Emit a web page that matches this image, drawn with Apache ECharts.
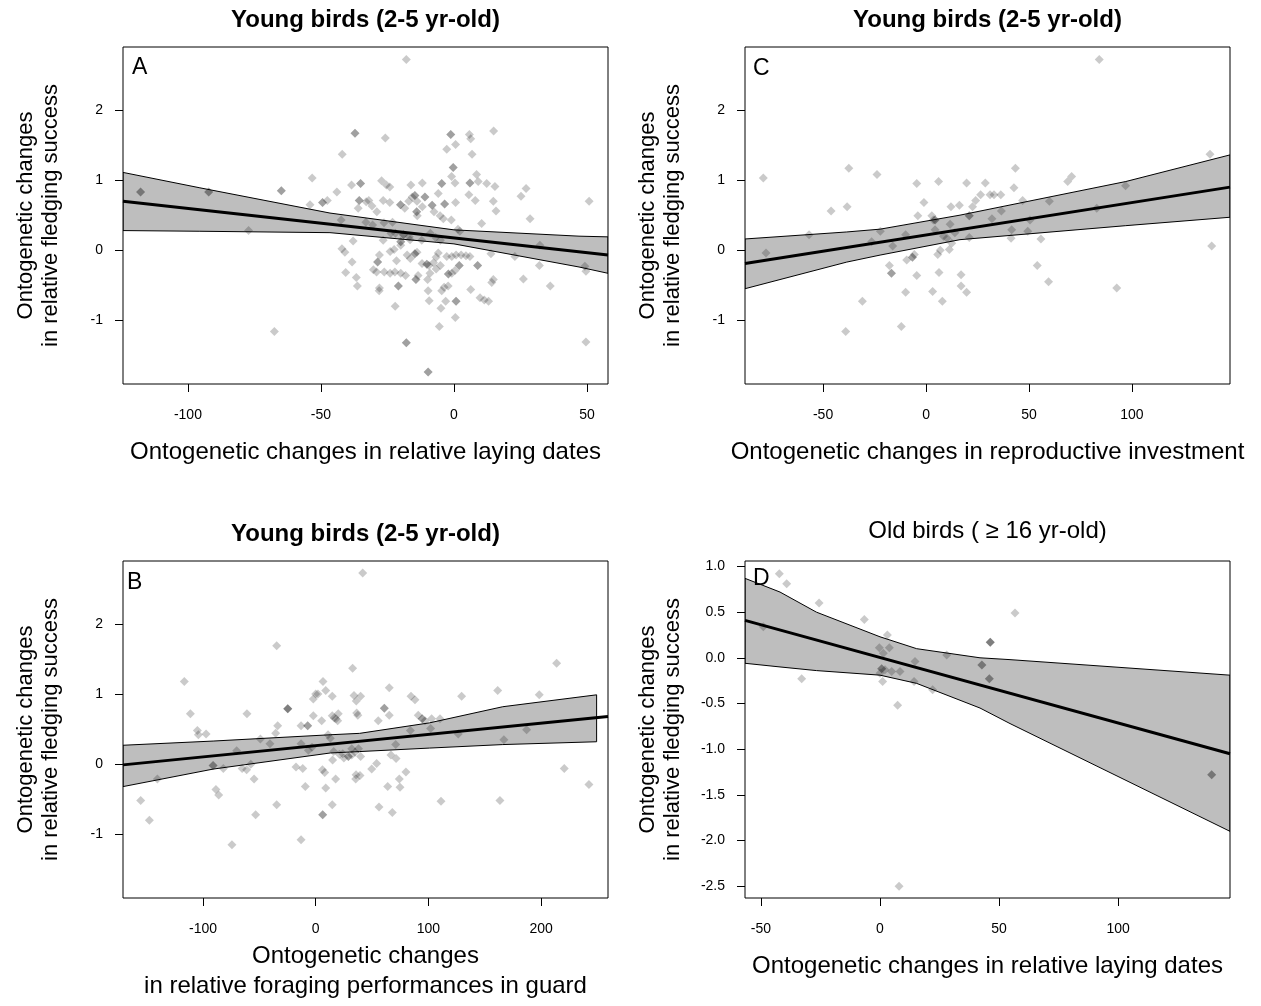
<!DOCTYPE html>
<html><head><meta charset="utf-8">
<script src="https://cdn.jsdelivr.net/npm/echarts@6/dist/echarts.min.js"></script>
<style>html,body{margin:0;padding:0;background:#fff}#c{width:1261px;height:1006px}</style>
</head><body><div id="c"></div>
<script>
const FONT = '"Liberation Sans", Arial, Helvetica, sans-serif';

// ---------- text ----------
const titleYoung = 'Young birds (2-5 yr-old)';
const titleOld = 'Old birds ( \u2265 16 yr-old)';
const yTitle = 'Ontogenetic changes\nin relative fledging success';
const xTitleA = 'Ontogenetic changes in relative laying dates';
const xTitleC = 'Ontogenetic changes in reproductive investment';
const xTitleB = 'Ontogenetic changes\nin relative foraging performances in guard';
const xTitleD = 'Ontogenetic changes in relative laying dates';
const panelLetters = ['A', 'C', 'B', 'D'];

// ---------- axes ----------
const xRangeA = [-124.4, 57.9];
const xRangeC = [-87.9, 147.6];
const xRangeB = [-171, 259.4];
const xRangeD = [-56.7, 147];
const yRangeABC = [-1.91, 2.90];
const yRangeD = [-2.63, 1.06];
const xTicksA = [-100, -50, 0, 50];
const xTicksC = [-50, 0, 50, 100];
const xTicksB = [-100, 0, 100, 200];
const xTicksD = [-50, 0, 50, 100];
const yTicksABC = [-1, 0, 1, 2];
const yTicksD = [-2.5, -2, -1.5, -1, -0.5, 0, 0.5, 1];

// ---------- data: panel A ----------
const ptsA = [
[-117.8,0.83],[-117.8,0.83],[-92.2,0.83],[-92.2,0.83],[-77.2,0.28],[-67.5,-1.16],
[-64.9,0.85],[-64.9,0.85],[-53.3,1.03],[-54.1,0.65],[-49.4,0.68],[-49.4,0.68],
[-47.6,0.71],[-44.0,0.83],[-42.0,1.37],[-42.4,0.43],[-42.1,0.02],[-41.0,-0.03],[-38.3,-0.17],
[-40.7,-0.32],[-37.9,0.13],[-38.5,0.93],[-37.2,1.67],[-37.2,1.67],[-36.7,-0.39],[-36.3,-0.51],
[-17.9,2.72],[-25.8,1.60],[-1.2,1.65],[-1.2,1.65],[5.8,1.65],[6.3,1.59],[14.9,1.70],[0.6,1.51],
[-2.7,1.44],[6.8,1.37],[-0.3,1.18],[-0.3,1.18],[-0.9,1.05],[0.4,0.96],[-4.6,0.95],[-4.6,0.95],
[6.0,0.96],[6.0,0.96],[8.5,1.08],[9.1,0.98],[12.3,0.95],[15.4,0.91],[5.6,0.79],[8.0,0.71],
[14.8,0.70],[15.8,0.56],[10.4,0.38],[25.2,0.77],[27.1,0.88],[28.6,0.45],[50.8,0.70],[32.3,0.07],
[22.9,-0.09],[32.1,-0.22],[26.1,-0.41],[36.2,-0.51],[49.2,-0.23],[49.6,-0.30],[49.6,-1.31],
[13.9,-0.05],[14.8,-0.42],[14.2,-0.46],[6.3,-0.56],[9.8,-0.68],[11.4,-0.71],[13.0,-0.73],
[-17.9,-1.32],[-17.9,-1.32],[-9.7,-1.74],[-9.7,-1.74],[-5.5,-1.09],[0.5,-0.96],[-22.1,-0.80],
[-9.3,-0.72],[-4.9,-0.83],[0.8,-0.73],[0.8,-0.73],[-3.1,-0.73],[-9.7,-0.58],[-4.6,-0.58],
[-3.7,-0.53],[-2.2,-0.51],[-28.1,-0.58],[-30.3,-0.28],[-29.1,-0.31],[-26.2,-0.31],[-24.0,-0.33],
[-22.2,-0.31],[-20.0,-0.33],[-28.0,-0.54],[-20.9,-0.51],[-20.9,-0.51],[-18.2,-0.36],
[-14.3,-0.42],[-14.3,-0.42],[-13.5,-0.36],[-9.9,-0.42],[-9.0,-0.33],[-6.7,-0.27],[-5.1,-0.22],
[-6.7,-0.10],[-5.9,-0.04],[-2.1,-0.34],[-2.1,-0.34],[-0.8,-0.33],[0.4,-0.29],[2.0,-0.22],[2.0,-0.22],
[-2.7,-0.09],[-0.8,-0.09],[0.8,-0.07],[2.7,-0.07],[4.5,-0.08],[6.0,-0.09],[8.9,-0.22],[8.9,-0.22],
[-28.7,-0.17],[-28.7,-0.17],[-28.0,-0.07],[-24.0,-0.02],[-22.5,0.01],[-21.6,-0.15],[-20.0,0.07],
[-20.0,0.12],[-20.0,0.12],[-17.6,-0.07],[-16.4,-0.12],[-14.7,-0.05],[-14.7,-0.05],[-13.9,-0.03],
[-12.0,-0.19],[-10.2,-0.20],[-10.2,-0.20],[-9.4,-0.22],[-7.7,-0.18],[-12.1,0.14],[-8.9,0.24],
[-6.9,0.18],[-5.1,0.14],[-16.5,0.15],[-26.6,0.14],[-23.7,0.24],[-33.1,0.40],[-30.6,0.36],
[-26.3,0.39],[-23.1,0.40],[-22.0,0.24],[-36.0,0.60],[-35.6,0.71],[-35.6,0.71],[-33.0,0.69],
[-32.0,0.71],[-30.8,0.63],[-26.6,0.71],[-24.1,0.68],[-20.1,0.65],[-20.1,0.65],[-18.5,0.60],
[-17.0,0.70],[-15.7,0.76],[-14.7,0.78],[-14.7,0.78],[-13.9,0.70],[-13.8,0.49],[-14.0,0.55],
[-14.0,0.55],[-11.9,0.62],[-10.9,0.76],[-10.9,0.76],[-8.2,0.64],[-8.2,0.64],[-7.5,0.55],
[-5.9,0.81],[-5.2,0.49],[-4.0,0.45],[-3.5,0.66],[-3.5,0.66],[0.6,0.68],[-1.0,0.43],[1.5,0.30],
[2.2,0.27],[-11.9,0.96],[-16.2,0.93],[-27.2,0.99],[-25.4,0.93],[-24.1,0.90],[-35.1,0.95],
[-35.1,0.95],[-29.0,0.55],[-19.0,0.22],[-19.0,0.22],[-16.8,0.19]
];
const bandAx = [-124.4, -95.5, -46.6, 0, 47, 57.9];
const bandAup = [1.11, 0.89, 0.53, 0.29, 0.20, 0.19];
const bandAlo = [0.28, 0.27, 0.25, 0.09, -0.24, -0.33];
const fitAx = [-124.4, 57.9];
const fitAy = [0.70, -0.07];

// ---------- data: panel C ----------
const ptsC = [
[-79.0,1.03],[-77.7,-0.04],[-56.8,0.22],[-46.1,0.56],[-38.3,0.62],[-37.5,1.17],[-23.8,1.08],
[-30.9,-0.73],[-39.0,-1.16],[-12.0,-1.09],[-22.2,0.27],[-26.4,0.12],[-16.2,0.06],[-17.8,-0.22],
[-16.8,-0.33],[-16.8,-0.33],[-9.9,0.22],[-9.9,-0.60],[-9.4,-0.14],[-6.6,-0.10],[-6.6,-0.10],
[-5.7,-0.06],[-4.5,-0.36],[-4.5,0.95],[-4.0,0.49],[-1.0,0.68],[2.8,0.49],[3.6,0.43],[4.4,0.43],
[4.4,0.43],[3.2,-0.59],[4.4,0.29],[5.7,-0.06],[6.3,-0.32],[6.1,0.98],[6.9,0.00],[7.9,-0.73],
[8.5,0.20],[10.2,0.17],[14.0,0.25],[11.3,0.01],[12.1,0.62],[11.7,0.37],[12.5,0.10],[16.2,0.64],
[17.0,-0.35],[17.0,-0.51],[19.7,0.96],[19.7,-0.60],[21.0,0.18],[21.0,0.49],[21.0,0.49],
[22.6,0.62],[24.1,0.71],[26.5,0.79],[28.8,0.96],[31.1,0.79],[33.0,0.79],[32.0,0.45],[36.3,0.79],
[36.6,0.56],[43.4,1.17],[42.7,0.89],[46.9,0.71],[50.5,0.43],[49.4,0.27],[41.6,0.29],[41.3,0.17],
[55.8,0.16],[59.9,0.70],[54.0,-0.22],[59.5,-0.45],[68.8,0.98],[70.7,1.05],[82.9,0.60],
[96.9,0.92],[92.6,-0.54],[137.9,1.37],[138.7,0.06],[84.1,2.72]
];
const bandCx = [-87.9, -38.5, -22.3, 16.5, 97, 147.6];
const bandCup = [0.16, 0.26, 0.30, 0.50, 0.98, 1.36];
const bandClo = [-0.55, -0.17, -0.07, 0.15, 0.35, 0.47];
const fitCx = [-87.9, 147.6];
const fitCy = [-0.19, 0.90];

// ---------- data: panel B ----------
const ptsB = [
[-155.3,-0.52],[-147.6,-0.80],[-140.5,-0.21],[-116.6,1.18],[-111.2,0.72],[-105.0,0.48],
[-104.1,0.42],[-97.3,0.43],[-91.1,-0.02],[-91.1,-0.02],[-88.5,-0.36],[-86.1,-0.44],[-82.0,-0.06],
[-74.3,-1.15],[-70.1,0.19],[-65.3,-0.06],[-61.3,-0.08],[-61.0,0.72],[-57.6,0.00],[-54.7,-0.21],
[-53.3,-0.72],[-49.1,0.36],[-40.6,0.29],[-35.5,0.44],[-33.7,0.55],[-34.6,1.69],[-34.6,-0.58],
[-24.8,0.79],[-24.8,0.79],[-24.8,0.79],[-17.5,-0.04],[-13.0,0.55],[-13.0,0.29],[-13.0,-1.08],
[-11.5,-0.06],[-9.2,-0.32],[-7.1,0.55],[-7.1,0.55],[-6.5,0.20],[-3.3,0.24],[-2.1,0.69],
[-2.1,0.93],[0.0,1.00],[2.0,1.00],[6.5,1.18],[8.9,1.05],[5.3,0.62],[6.0,-0.08],[8.0,-0.12],
[6.2,-0.72],[6.2,-0.72],[8.9,-0.34],[11.0,0.42],[13.0,0.37],[14.7,0.97],[14.7,-0.58],[14.7,0.69],
[17.7,-0.21],[16.0,0.18],[18.0,0.65],[19.5,0.62],[21.0,0.14],[24.0,0.15],[32.8,1.37],[34.0,0.98],
[36.0,0.90],[37.4,0.70],[35.8,-0.15],[32.0,0.22],[41.7,2.73],[39.9,0.97],[16.5,0.66],[20.0,0.72],
[36.4,0.73],[60.9,0.80],[60.9,0.80],[65.3,1.09],[65.3,0.70],[55.5,0.62],[84.6,0.97],[88.1,0.92],
[91.0,0.70],[94.5,0.65],[94.5,0.65],[97.0,0.62],[102.9,0.65],[110.3,0.65],[102.0,0.51],
[84.0,0.48],[126.5,0.43],[129.5,0.97],[161.5,1.05],[167.0,0.35],[187.2,0.49],[198.4,0.99],
[213.8,1.44],[220.6,-0.06],[242.5,-0.29],[163.5,-0.52],[111.2,-0.53],[56.2,-0.61],[68.0,-0.69],
[63.9,-0.32],[74.2,-0.21],[74.8,-0.33],[80.1,-0.11],[49.7,-0.07],[54.1,0.01],[35.5,-0.21],
[39.3,-0.16],[15.0,0.06],[25.0,0.09],[29.0,0.11],[29.0,0.11],[32.0,0.13],[39.9,0.11],[35.0,0.17],
[38.0,0.22],[66.8,0.13],[71.3,0.08],[71.0,0.28]
];
const bandBx = [-171, -91, 13, 39, 101, 166, 249.3];
const bandBup = [0.27, 0.33, 0.42, 0.44, 0.59, 0.82, 0.99];
const bandBlo = [-0.32, -0.07, 0.16, 0.18, 0.23, 0.28, 0.32];
const fitBx = [-171, 259.4];
const fitBy = [-0.01, 0.68];

// ---------- data: panel D ----------
const ptsD = [
[-42.3,0.92],[-39.2,0.81],[-25.6,0.60],[-6.6,0.42],[-32.9,-0.23],[-49.0,0.34],[3.1,0.25],
[-0.3,0.11],[3.9,0.11],[1.4,0.05],[0.7,-0.12],[0.7,-0.12],[2.1,-0.13],[4.9,-0.15],[1.1,-0.26],
[0.0,-0.17],[8.4,-0.15],[7.4,-0.52],[8.0,-2.50],[14.7,-0.04],[14.3,-0.26],[22.1,-0.35],[28.0,0.03],
[56.7,0.49],[46.3,0.17],[46.3,0.17],[46.3,0.17],[42.8,-0.08],[42.8,-0.08],[45.9,-0.23],[45.9,-0.23],
[139.3,-1.28],[139.3,-1.28]
];
const bandDx = [-56.7, -42, -26.7, 0, 15.4, 42, 54.6, 147];
const bandDup = [0.87, 0.72, 0.50, 0.23, 0.10, 0.00, -0.02, -0.19];
const bandDlo = [-0.06, -0.10, -0.14, -0.19, -0.28, -0.55, -0.72, -1.90];
const fitDx = [-56.7, 147];
const fitDy = [0.41, -1.05];

// ---------- build ----------
const panels = [
  {pos:[123,47], xr:xRangeA, yr:yRangeABC, xt:xTicksA, yt:yTicksABC, dec:0, pts:ptsA, bx:bandAx, bu:bandAup, bl:bandAlo, fx:fitAx, fy:fitAy, xname:xTitleA, xgap:54, xlh:28},
  {pos:[745,47], xr:xRangeC, yr:yRangeABC, xt:xTicksC, yt:yTicksABC, dec:0, pts:ptsC, bx:bandCx, bu:bandCup, bl:bandClo, fx:fitCx, fy:fitCy, xname:xTitleC, xgap:54, xlh:28},
  {pos:[123,561], xr:xRangeB, yr:yRangeABC, xt:xTicksB, yt:yTicksABC, dec:0, pts:ptsB, bx:bandBx, bu:bandBup, bl:bandBlo, fx:fitBx, fy:fitBy, xname:xTitleB, xgap:43, xlh:30},
  {pos:[745,561], xr:xRangeD, yr:yRangeD, xt:xTicksD, yt:yTicksD, dec:1, pts:ptsD, bx:bandDx, bu:bandDup, bl:bandDlo, fx:fitDx, fy:fitDy, xname:xTitleD, xgap:54, xlh:28}
];
const W = 485, H = 337;
const grids = [], xAxes = [], yAxes = [], series = [];
panels.forEach((p, i) => {
  grids.push({left:p.pos[0], top:p.pos[1], width:W, height:H, show:true, borderColor:'#000', borderWidth:1, backgroundColor:'transparent', z:10});
  xAxes.push({
    type:'value', gridIndex:i, min:p.xr[0], max:p.xr[1], position:'bottom',
    axisLine:{show:false, onZero:false}, splitLine:{show:false},
    axisTick:{show:true, inside:false, length:8, lineStyle:{color:'#000', width:1}, customValues:p.xt},
    axisLabel:{show:true, customValues:p.xt, margin:24, color:'#000', fontSize:14, fontFamily:FONT, formatter:v=>String(v)},
    name:p.xname, nameLocation:'middle', nameGap:p.xgap,
    nameTextStyle:{color:'#000', fontSize:24, fontFamily:FONT, lineHeight:p.xlh}
  });
  yAxes.push({
    type:'value', gridIndex:i, min:p.yr[0], max:p.yr[1], position:'left',
    axisLine:{show:false, onZero:false}, splitLine:{show:false},
    axisTick:{show:true, inside:false, length:8, lineStyle:{color:'#000', width:1}, customValues:p.yt},
    axisLabel:{show:true, customValues:p.yt, margin:20, color:'#000', fontSize:14, fontFamily:FONT,
      formatter:v=>p.dec ? Number(v).toFixed(1) : String(v)},
    name:yTitle, nameLocation:'middle', nameGap:60,
    nameTextStyle:{color:'#000', fontSize:22, fontFamily:FONT, lineHeight:25}
  });
  series.push({
    type:'custom', xAxisIndex:i, yAxisIndex:i, clip:true, z:1, silent:true,
    data:p.bx.map((x,k)=>[x, p.bu[k], p.bl[k]]),
    encode:{x:0, y:[1,2]},
    renderItem:function(params, api){
      if (params.dataIndex !== 0) return null;
      const pts = [];
      for (let k = 0; k < p.bx.length; k++) pts.push(api.coord([p.bx[k], p.bu[k]]));
      for (let k = p.bx.length-1; k >= 0; k--) pts.push(api.coord([p.bx[k], p.bl[k]]));
      return {type:'polygon', shape:{points:pts}, style:{fill:'#bebebe', stroke:'#000', lineWidth:1}};
    }
  });
  series.push({
    type:'scatter', xAxisIndex:i, yAxisIndex:i, z:2, silent:true,
    symbol:'diamond', symbolSize:9,
    itemStyle:{color:'rgba(0,0,0,0.26)'},
    data:p.pts
  });
  series.push({
    type:'line', xAxisIndex:i, yAxisIndex:i, z:3, silent:true, symbol:'none',
    lineStyle:{color:'#000', width:3},
    data:p.fx.map((x,k)=>[x, p.fy[k]])
  });
});

const graphics = [
  {type:'text', x:365.5, y:20, style:{text:titleYoung, font:'bold 24px '+FONT, fill:'#000', textAlign:'center', textVerticalAlign:'middle'}},
  {type:'text', x:987.5, y:20, style:{text:titleYoung, font:'bold 24px '+FONT, fill:'#000', textAlign:'center', textVerticalAlign:'middle'}},
  {type:'text', x:365.5, y:534, style:{text:titleYoung, font:'bold 24px '+FONT, fill:'#000', textAlign:'center', textVerticalAlign:'middle'}},
  {type:'text', x:987.5, y:531, style:{text:titleOld, font:'24px '+FONT, fill:'#000', textAlign:'center', textVerticalAlign:'middle'}},
  {type:'text', x:132, y:68, z:20, style:{text:panelLetters[0], font:'23px '+FONT, fill:'#000', textAlign:'left', textVerticalAlign:'middle'}},
  {type:'text', x:753, y:69, z:20, style:{text:panelLetters[1], font:'23px '+FONT, fill:'#000', textAlign:'left', textVerticalAlign:'middle'}},
  {type:'text', x:127, y:583, z:20, style:{text:panelLetters[2], font:'23px '+FONT, fill:'#000', textAlign:'left', textVerticalAlign:'middle'}},
  {type:'text', x:753, y:579, z:20, style:{text:panelLetters[3], font:'23px '+FONT, fill:'#000', textAlign:'left', textVerticalAlign:'middle'}}
];

const chart = echarts.init(document.getElementById('c'), null, {renderer:'canvas'});
chart.setOption({
  animation:false,
  backgroundColor:'#fff',
  textStyle:{fontFamily:FONT},
  grid:grids, xAxis:xAxes, yAxis:yAxes, series:series, graphic:graphics
});
</script></body></html>
